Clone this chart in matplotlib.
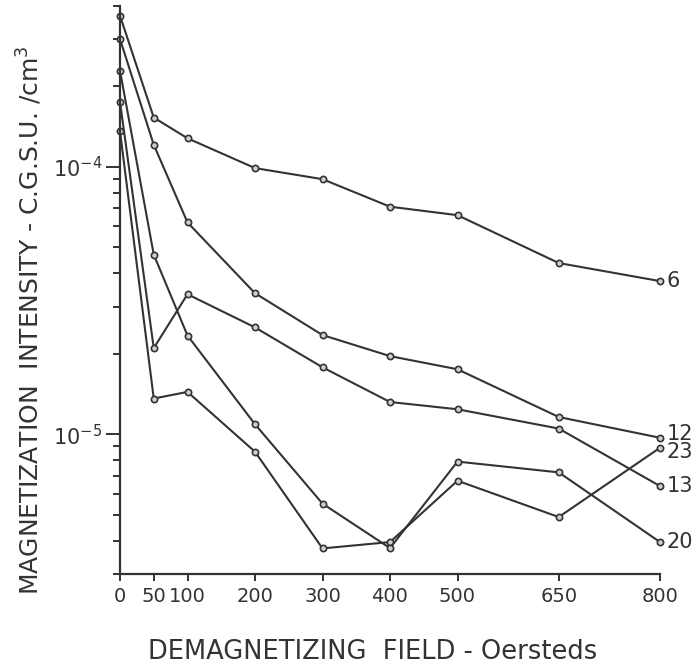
# decay of magnetization with alternating field demagnetization, 5 specimens

import matplotlib
matplotlib.use('Agg')
import matplotlib.pyplot as plt
from matplotlib.ticker import FixedLocator, LogLocator, NullFormatter
import numpy as np

# ------ Data ------
field = [0, 50, 100, 200, 300, 400, 500, 650, 800]
field_labels = ['0', '50', '100', '200', '300', '400', '500', '650', '800']

s6 = [3.68e-4, 1.53e-4, 1.28e-4, 9.9e-5, 9.0e-5, 7.1e-5, 6.6e-5, 4.37e-5, 3.74e-5]
s12 = [3.01e-4, 1.21e-4, 6.2e-5, 3.37e-5, 2.35e-5, 1.96e-5, 1.75e-5, 1.16e-5, 9.7e-6]
s13 = [1.75e-4, 2.1e-5, 3.34e-5, 2.51e-5, 1.78e-5, 1.32e-5, 1.24e-5, 1.05e-5, 6.4e-6]
s20 = [2.29e-4, 4.7e-5, 2.34e-5, 1.09e-5, 5.5e-6, 3.75e-6, 7.9e-6, 7.2e-6, 3.95e-6]
s23 = [1.36e-4, 1.36e-5, 1.44e-5, 8.6e-6, 3.74e-6, 3.95e-6, 6.7e-6, 4.9e-6, 8.9e-6]

series = [('6', s6), ('12', s12), ('23', s23), ('13', s13), ('20', s20)]
# small vertical nudge of the end labels (points)
label_dy = {'6': 0, '12': 3, '23': -3, '13': 0, '20': 0}

ink = '#333333'

fig = plt.figure(figsize=(6.96, 6.68), dpi=100)
ax = fig.add_axes([120/696, 1 - 574/668, 540/696, 568/668])

for name, vals in series:
    ax.plot(field, vals, color=ink, lw=1.5, marker='o', ms=4.5,
            mfc='#cfcfcf', mec=ink, mew=1.2, clip_on=False)
    ax.annotate(name, (field[-1], vals[-1]), xytext=(5, label_dy[name]),
                textcoords='offset points', ha='left', va='center',
                fontsize=15, color=ink, annotation_clip=False)

ax.set_yscale('log')
ax.set_xlim(0, 800)
ax.set_ylim(3e-6, 4e-4)

ax.xaxis.set_major_locator(FixedLocator(field))
ax.set_xticklabels(field_labels)
ax.yaxis.set_major_locator(FixedLocator([1e-5, 1e-4]))
ax.set_yticklabels([r'$10^{-5}$', r'$10^{-4}$'])
ax.yaxis.set_minor_locator(LogLocator(base=10, subs=np.arange(2, 10)))
ax.yaxis.set_minor_formatter(NullFormatter())

for sp in ['top', 'right']:
    ax.spines[sp].set_visible(False)
for sp in ['left', 'bottom']:
    ax.spines[sp].set_color(ink)
    ax.spines[sp].set_linewidth(1.6)

ax.tick_params(axis='x', direction='out', length=5, width=1.4, color=ink,
               labelsize=14, labelcolor=ink, pad=4)
ax.tick_params(axis='y', which='major', direction='out', length=10, width=1.4,
               color=ink, labelsize=15, labelcolor=ink, pad=3)
ax.tick_params(axis='y', which='minor', direction='out', length=5, width=1.4,
               color=ink)

fig.text(373/696, 1 - 652/668, 'DEMAGNETIZING  FIELD - Oersteds',
         ha='center', va='center', fontsize=18.5, color=ink)
fig.text(30/696, 1 - 320/668, 'MAGNETIZATION  INTENSITY - C.G.S.U. /cm$^3$',
         ha='center', va='center', rotation=90, fontsize=18, color=ink)

plt.savefig('out.png', dpi=100)
